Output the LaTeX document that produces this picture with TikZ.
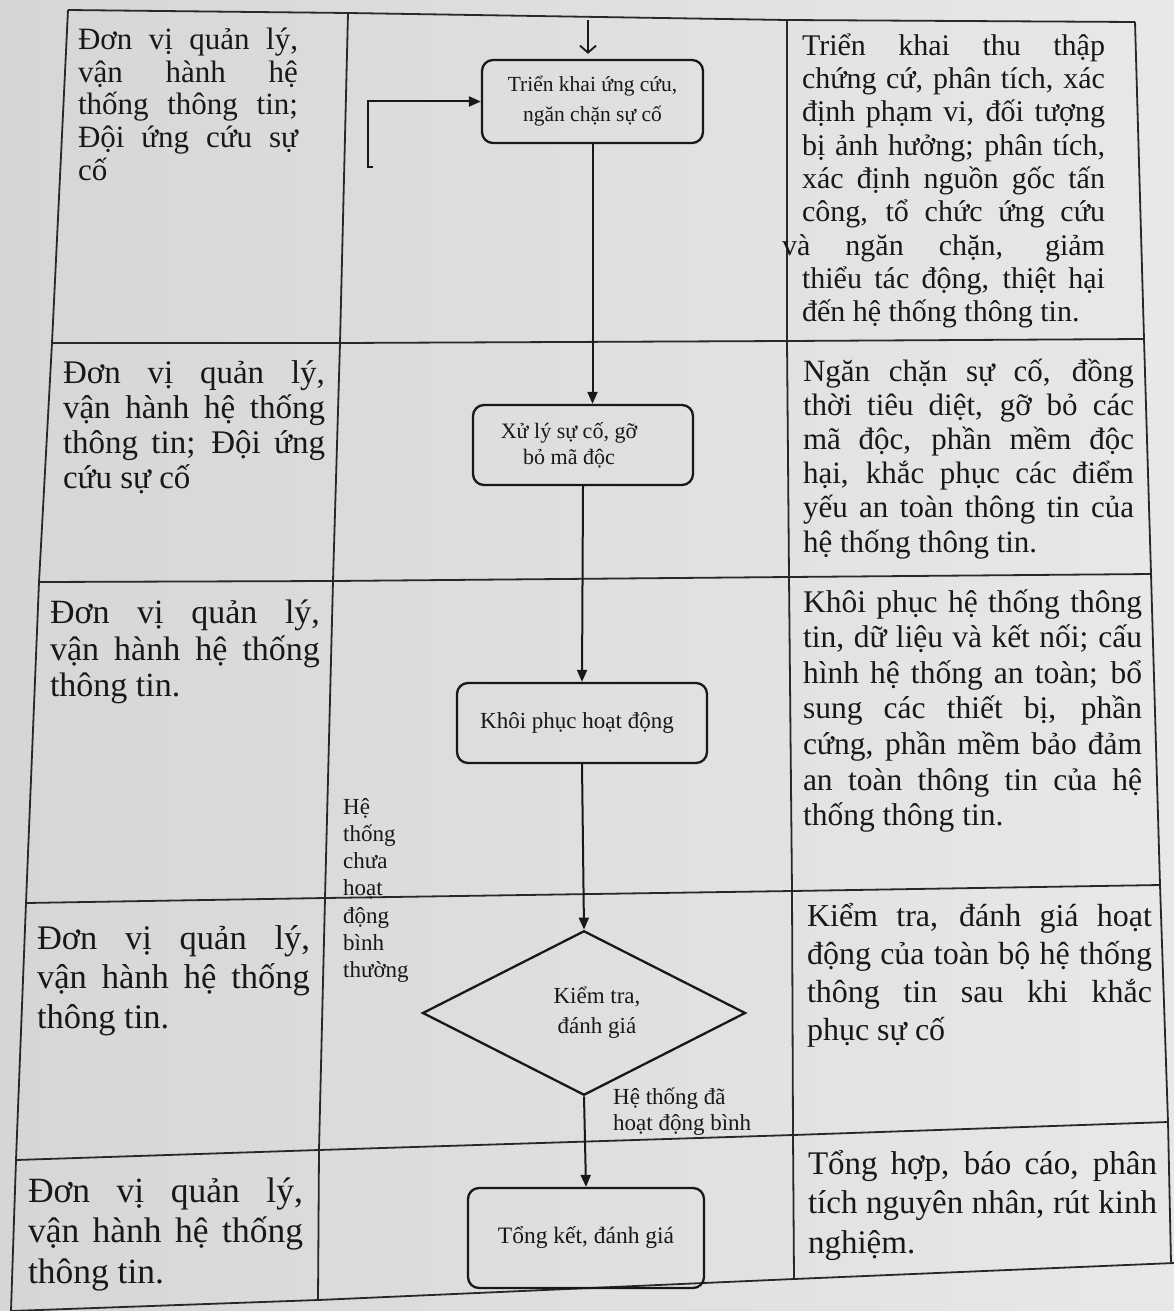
\documentclass[tikz,border=0pt]{standalone}
\usepackage{fontspec}
\setmainfont{Liberation Serif}
\usetikzlibrary{arrows.meta,shapes.geometric,calc}
\definecolor{paperL}{RGB}{214,214,212}
\definecolor{paperR}{RGB}{232,232,230}
\definecolor{ink}{RGB}{24,24,24}
\definecolor{rulecol}{RGB}{40,40,40}
\newcommand\jcell[7]{%
  \foreach \t [count=\i] in {#7}{%
    \node[celltxt, font=\fontsize{#5}{#5}\selectfont] (#1-\i) at (#2,{#3+(\i-1)*#6}) {\makebox[#4pt][s]{\t}};
  }%
}
\tikzset{
  celltxt/.style={anchor=base west, inner sep=0pt, outer sep=0pt, text=ink},
  gridline/.style={draw=rulecol, line width=1.8pt, line join=round},
  stepbox/.style={draw=ink, line width=2.3pt, rounded corners=11pt, inner sep=2pt, align=center, text=ink},
  decision/.style={diamond, draw=ink, line width=2.3pt, inner sep=0pt, align=center, text=ink, font=\fontsize{23}{30}\selectfont},
  flow/.style={draw=ink, line width=2pt, -{Triangle[length=12pt,width=10pt]}},
  lbl/.style={anchor=base west, inner sep=0pt, text=ink, font=\fontsize{23}{23}\selectfont},
}
\begin{document}
\begin{tikzpicture}[x=1pt,y=-1pt]
\fill[left color=paperL, right color=paperR] (0,0) rectangle (1174,1311);
\useasboundingbox (0,0) rectangle (1174,1311);
% table grid
\draw[gridline] (68,10) -- (348,13) -- (787,20) -- (1135,22);
\draw[gridline] (68,10) -- (52,343) -- (39,582) -- (26,903) -- (16,1160) -- (11,1311);
\draw[gridline] (348,13) -- (340,343) -- (333,581) -- (325,898) -- (319,1150) -- (318,1300);
\draw[gridline] (787,20) -- (787,341) -- (789,577) -- (792,891) -- (793,1135) -- (794,1279);
\draw[gridline] (1135,22) -- (1144,339) -- (1151,574) -- (1160,885) -- (1168,1122) -- (1171,1263);
\draw[gridline] (52,343) -- (340,343) -- (787,341) -- (1144,339);
\draw[gridline] (39,582) -- (333,581) -- (789,577) -- (1151,574);
\draw[gridline] (26,903) -- (325,898) -- (792,891) -- (1160,885);
\draw[gridline] (16,1160) -- (319,1150) -- (793,1135) -- (1168,1122);
\draw[gridline] (11,1311) -- (318,1300) -- (794,1279) -- (1174,1263);
% left column
\jcell{L1}{78}{50}{220}{31}{32.5}{{Đơn vị quản lý,},{vận hành hệ},{thống thông tin;},{Đội ứng cứu sự},{cố\hfill}}
\jcell{L2}{63}{383}{262}{33}{35}{{Đơn vị quản lý,},{vận hành hệ thống},{thông tin; Đội ứng},{cứu sự cố\hfill}}
\jcell{L3}{50}{623.5}{270}{34}{36.5}{{Đơn vị quản lý,},{vận hành hệ thống},{thông tin.\hfill}}
\jcell{L4}{37}{949}{273}{34.5}{39.5}{{Đơn vị quản lý,},{vận hành hệ thống},{thông tin.\hfill}}
\jcell{L5}{28}{1202}{275}{35.5}{40.5}{{Đơn vị quản lý,},{vận hành hệ thống},{thông tin.\hfill}}
% right column
\jcell{R1}{802}{55.5}{303}{30}{33.25}{{Triển khai thu thập},{chứng cứ, phân tích, xác},{định phạm vi, đối tượng},{bị ảnh hưởng; phân tích,},{xác định nguồn gốc tấn},{công, tổ chức ứng cứu},{\hspace*{-20pt}\makebox[323pt][s]{và ngăn chặn, giảm}},{thiểu tác động, thiệt hại},{đến hệ thống thông tin.\hfill}}
\jcell{R2}{803}{381}{331}{31}{34.2}{{Ngăn chặn sự cố, đồng},{thời tiêu diệt, gỡ bỏ các},{mã độc, phần mềm độc},{hại, khắc phục các điểm},{yếu an toàn thông tin của},{hệ thống thông tin.\hfill}}
\jcell{R3}{803}{612}{339}{31.5}{35.6}{{Khôi phục hệ thống thông},{tin, dữ liệu và kết nối; cấu},{hình hệ thống an toàn; bổ},{sung các thiết bị, phần},{cứng, phần mềm bảo đảm},{an toàn thông tin của hệ},{thống thông tin.\hfill}}
\jcell{R4}{807}{926}{345}{32}{38.3}{{Kiểm tra, đánh giá hoạt},{động của toàn bộ hệ thống},{thông tin sau khi khắc},{phục sự cố\hfill}}
\jcell{R5}{808}{1174}{349}{33}{39.5}{{Tổng hợp, báo cáo, phân},{tích nguyên nhân, rút kinh},{nghiệm.\hfill}}
% flowchart
\node[stepbox, font=\fontsize{21.5}{30}\selectfont, minimum width=221pt, minimum height=83pt] (b1) at (592.5,101.5) {Triển khai ứng cứu,\\ngăn chặn sự cố};
\node[stepbox, font=\fontsize{22}{26}\selectfont, minimum width=220pt, minimum height=80pt] (b2) at (583,445) {\hspace*{-28pt}Xử lý sự cố, gỡ\\\hspace*{-28pt}bỏ mã độc};
\node[stepbox, font=\fontsize{23}{28}\selectfont, minimum width=250pt, minimum height=80pt] (b3) at (582,723) {\hspace*{-10pt}Khôi phục hoạt động};
\node[decision, minimum width=323pt, minimum height=157pt] (d4) at (584,1013) {\hspace*{26pt}Kiểm tra,\\\hspace*{26pt}đánh giá};
\node[stepbox, font=\fontsize{23.5}{28}\selectfont, minimum width=236pt, minimum height=100pt] (b5) at (586,1238) {Tổng kết, đánh giá};
\coordinate (entry) at (588,20);
\draw[draw=ink, line width=1.8pt, -{Straight Barb[length=7pt,width=16pt]}, shorten >=5pt] (entry) -- (entry |- b1.north);
\draw[flow] (b1.south) -- (b1.south |- b2.north);
\draw[flow] (b2.south) -- (b3.north);
\draw[flow] (b3.south) -- (d4.north);
\draw[flow] (d4.south) -- (b5.north);
\coordinate (loopend) at (368,167);
\coordinate (loopfoot) at (373,167);
\draw[flow] (loopfoot) -- (loopend) |- (b1.west);
% branch labels
\foreach \t [count=\i] in {Hệ,thống,chưa,hoạt,động,bình,thường}
  \node[lbl] (n\i) at (343,{814+(\i-1)*27.3}) {\t};
\node[lbl] (y1) at (613,1104) {Hệ thống đã};
\node[lbl] (y2) at (613,1130) {hoạt động bình};
\end{tikzpicture}
\end{document}
